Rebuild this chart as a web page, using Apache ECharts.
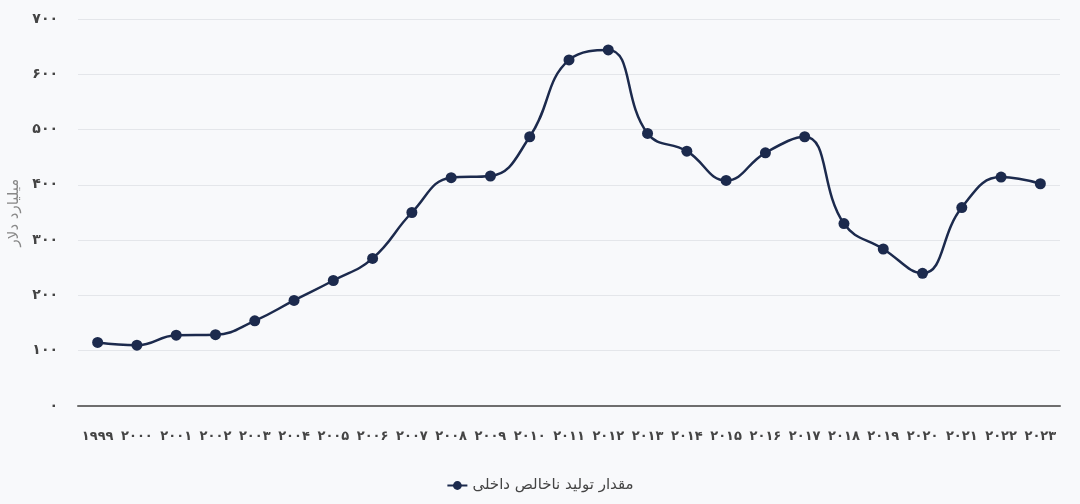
<!DOCTYPE html>
<html>
<head>
<meta charset="utf-8">
<script src="https://cdn.jsdelivr.net/npm/echarts@6/dist/echarts.min.js"></script>
<style>
html,body{margin:0;padding:0;background:#f8f9fb;}
#c{width:1080px;height:504px;}
</style>
</head>
<body>
<div id="c"></div>
<script>
const years = ['۱۹۹۹','۲۰۰۰','۲۰۰۱','۲۰۰۲','۲۰۰۳','۲۰۰۴','۲۰۰۵','۲۰۰۶','۲۰۰۷','۲۰۰۸','۲۰۰۹','۲۰۱۰','۲۰۱۱','۲۰۱۲','۲۰۱۳','۲۰۱۴','۲۰۱۵','۲۰۱۶','۲۰۱۷','۲۰۱۸','۲۰۱۹','۲۰۲۰','۲۰۲۱','۲۰۲۲','۲۰۲۳'];
const gdp = [115,110,128,129,154,191,227,267,350,413,416,487,626,644,493,461,408,458,487,330,284,240,359,414,402];
const yTickLabels = ['۰','۱۰۰','۲۰۰','۳۰۰','۴۰۰','۵۰۰','۶۰۰','۷۰۰'];
const seriesName = 'مقدار تولید ناخالص داخلی';
const yAxisName = 'میلیارد دلار';

const fontFam = "'DejaVu Sans', 'Noto Sans', sans-serif";
const chart = echarts.init(document.getElementById('c'));
chart.setOption({
  backgroundColor: '#f8f9fb',
  textStyle: {fontFamily: fontFam},
  grid: {left: 78, right: 20, top: 19, bottom: 98, containLabel: false, outerBoundsMode: 'none'},
  legend: {
    bottom: 6, left: 'center',
    data: [seriesName],
    textStyle: {color: '#444', fontSize: 15, fontFamily: fontFam},
    itemWidth: 20, itemHeight: 11
  },
  xAxis: {
    type: 'category',
    data: years,
    boundaryGap: true,
    axisLine: {lineStyle: {color: '#6e6e6e', width: 2}},
    axisTick: {show: false},
    axisLabel: {color: '#444', fontSize: 13, fontWeight: 'bold', margin: 24, interval: 0, fontFamily: fontFam}
  },
  yAxis: {
    type: 'value',
    min: 0, max: 700, interval: 100,
    name: yAxisName,
    nameLocation: 'middle',
    nameGap: 56,
    nameRotate: 90,
    nameTextStyle: {color: '#888', fontSize: 15, fontFamily: fontFam},
    axisLine: {show: false},
    axisTick: {show: false},
    splitLine: {lineStyle: {color: '#e4e6ea', width: 1}},
    axisLabel: {
      color: '#444', fontSize: 14, fontWeight: 'bold', margin: 20, fontFamily: fontFam,
      formatter: function (v) { return yTickLabels[Math.round(v / 100)]; }
    }
  },
  series: [{
    name: seriesName,
    type: 'line',
    data: gdp,
    smooth: 0.45,
    symbol: 'circle',
    symbolSize: 11,
    lineStyle: {color: '#1c2a4d', width: 2.5},
    itemStyle: {color: '#1c2a4d'}
  }]
});
</script>
</body>
</html>
